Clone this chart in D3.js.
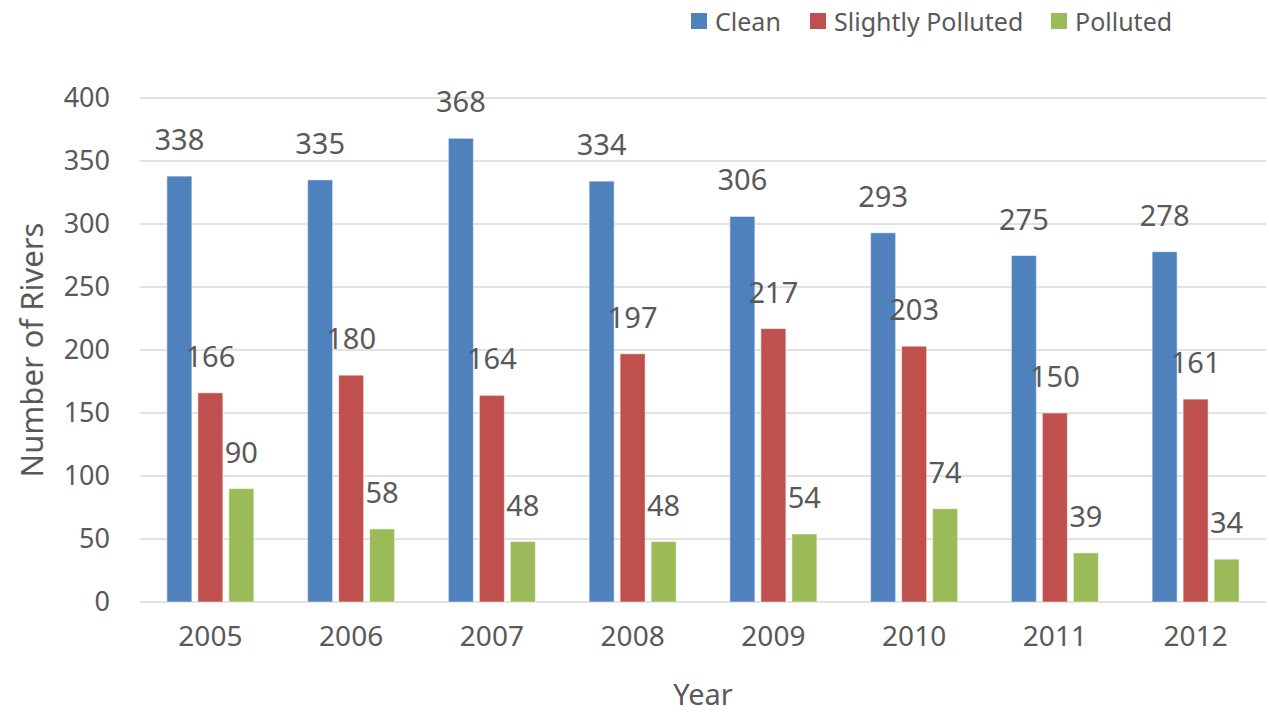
<!DOCTYPE html>
<html>
<head>
<meta charset="utf-8">
<script src="https://cdn.jsdelivr.net/npm/d3@7"></script>
<style>
  body { margin: 0; background: #fff; }
  text { font-family: "Noto Sans", "Open Sans", sans-serif; fill: #595959; }
</style>
</head>
<body>
<svg id="chart" width="1269" height="714"></svg>
<script>
var years = ["2005", "2006", "2007", "2008", "2009", "2010", "2011", "2012"]
var seriesNames = ["Clean", "Slightly Polluted", "Polluted"]
var clean = [338, 335, 368, 334, 306, 293, 275, 278]
var slightlyPolluted = [166, 180, 164, 197, 217, 203, 150, 161]
var polluted = [90, 58, 48, 48, 54, 74, 39, 34]
var yTicks = [0, 50, 100, 150, 200, 250, 300, 350, 400]

var colors = ["#4f81bd", "#c0504d", "#9bbb59"]
var seriesValues = [clean, slightlyPolluted, polluted]

var margin = {top: 98, right: 3, bottom: 112, left: 140}
var W = 1269, H = 714

var svg = d3.select("#chart")

var x0 = d3.scaleBand()
  .domain(years)
  .range([margin.left, W - margin.right])

// bars 25px wide with 6px gaps inside each year
var x1 = d3.scaleBand()
  .domain(seriesNames)
  .range([0, x0.bandwidth()])
  .paddingInner(6 / 31)
  .paddingOuter(0.867)

var y = d3.scaleLinear()
  .domain([0, 400])
  .range([H - margin.bottom, margin.top])

// gridlines
svg.append("g")
  .selectAll("line")
  .data(yTicks)
  .enter().append("line")
  .attr("x1", margin.left)
  .attr("x2", W - margin.right)
  .attr("y1", function(d) { return y(d) })
  .attr("y2", function(d) { return y(d) })
  .attr("stroke", "#d9d9d9")
  .attr("stroke-width", 1.5)

// y axis labels
var yAxis = d3.axisLeft(y).tickValues(yTicks).tickSize(0).tickPadding(30)
var gy = svg.append("g")
  .attr("transform", "translate(" + margin.left + ",0)")
  .call(yAxis)
gy.select(".domain").remove()
gy.selectAll("text").style("font-size", "27px").attr("fill", "#595959")

// x axis labels
var xAxis = d3.axisBottom(x0).tickSize(0).tickPadding(24)
var gx = svg.append("g")
  .attr("transform", "translate(0," + y(0) + ")")
  .call(xAxis)
gx.select(".domain").remove()
gx.selectAll("text").style("font-size", "28px").attr("fill", "#595959")

// bars
var rows = []
years.forEach(function(yr, i) {
  seriesNames.forEach(function(s, j) {
    rows.push({year: yr, series: s, value: seriesValues[j][i], color: colors[j]})
  })
})

svg.append("g")
  .selectAll("rect")
  .data(rows)
  .enter().append("rect")
  .attr("x", function(d) { return x0(d.year) + x1(d.series) })
  .attr("y", function(d) { return y(d.value) })
  .attr("width", x1.bandwidth())
  .attr("height", function(d) { return y(0) - y(d.value) })
  .attr("fill", function(d) { return d.color })
  .attr("stroke", "#ffffff")
  .attr("stroke-opacity", 0.5)
  .attr("stroke-width", 1)

// value labels
svg.append("g")
  .selectAll("text")
  .data(rows)
  .enter().append("text")
  .attr("x", function(d) { return x0(d.year) + x1(d.series) + x1.bandwidth() / 2 })
  .attr("y", function(d) { return y(d.value) - 26 })
  .attr("text-anchor", "middle")
  .style("font-size", "29px")
  .attr("fill", "#404040")
  .text(function(d) { return d.value })

// axis titles
svg.append("text")
  .attr("x", (margin.left + W - margin.right) / 2)
  .attr("y", 705)
  .attr("text-anchor", "middle")
  .style("font-size", "29px")
  .text("Year")

svg.append("text")
  .attr("transform", "translate(43," + y(200) + ") rotate(-90)")
  .attr("text-anchor", "middle")
  .style("font-size", "31px")
  .text("Number of Rivers")

// legend
var legendX = [691, 810, 1051]
var legend = svg.append("g")
  .selectAll("g")
  .data(seriesNames)
  .enter().append("g")
  .attr("transform", function(d, i) { return "translate(" + legendX[i] + ",0)" })

legend.append("rect")
  .attr("x", 0)
  .attr("y", 13)
  .attr("width", 16)
  .attr("height", 16)
  .attr("fill", function(d, i) { return colors[i] })

legend.append("text")
  .attr("x", 24)
  .attr("y", 31)
  .style("font-size", "25px")
  .text(function(d) { return d })
</script>
</body>
</html>
